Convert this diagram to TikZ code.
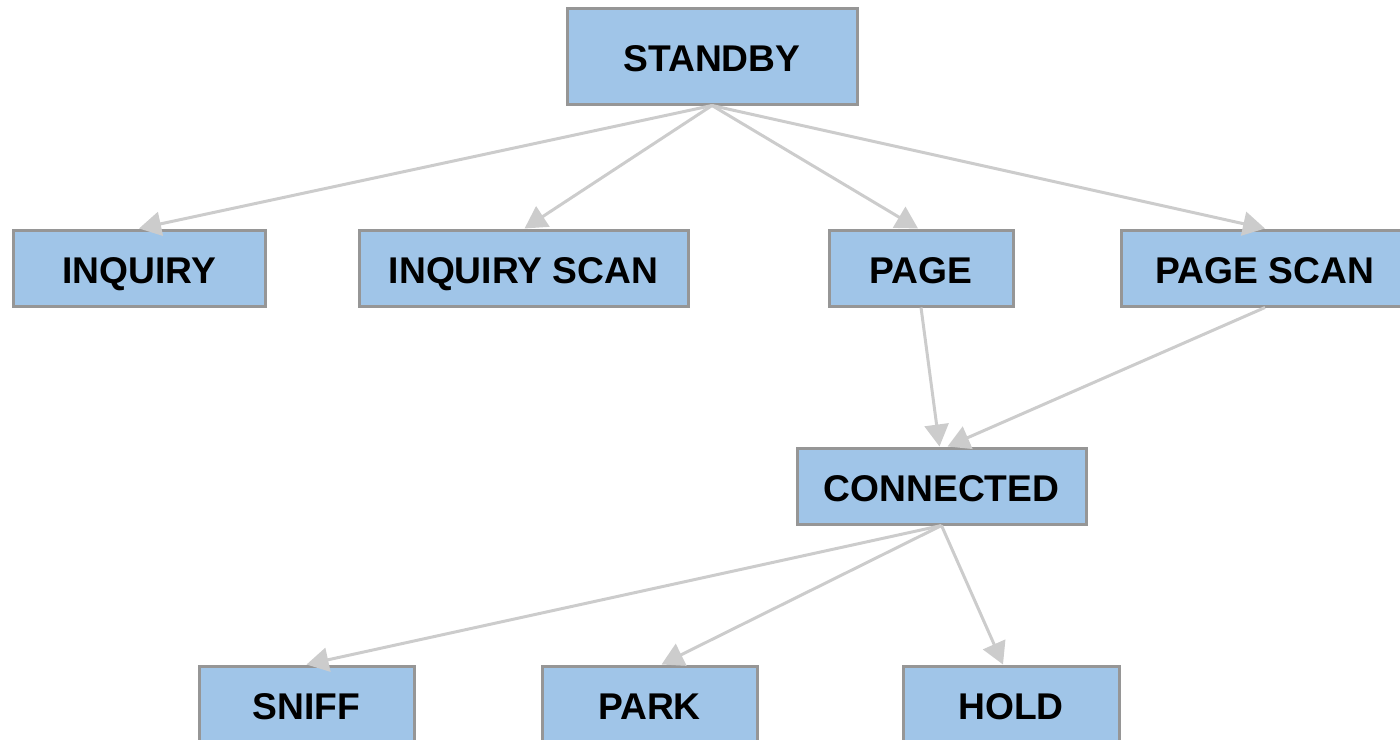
\documentclass[tikz,border=0pt]{standalone}
\usepackage{fontspec}
\setmainfont{Liberation Sans}
\usetikzlibrary{arrows.meta}
\definecolor{stfill}{RGB}{160,197,232}
\definecolor{stdraw}{RGB}{150,150,150}
\definecolor{stline}{RGB}{204,204,204}
\tikzset{
  state/.style={draw=stdraw, line width=1.5pt, fill=stfill, minimum height=38pt,
    inner sep=0pt, text height=17.8pt, text depth=2pt,
    font=\fontsize{18.6}{20}\selectfont\bfseries},
  trans/.style={draw=stline, line width=1.5pt,
    -{Triangle[length=11pt,width=12pt,fill=stline]}}
}
\begin{document}
\begin{tikzpicture}[x=0.5pt,y=-0.5pt]
\useasboundingbox (0,0) rectangle (1400,739);
\clip (0,0) rectangle (1400,739);

%Shape: states
\node [state, minimum width=145pt, minimum height=48pt] (standby) at (712,56) {STANDBY};
\node [state, minimum width=126pt] (inquiry) at (139,268) {INQUIRY};
\node [state, minimum width=164.5pt] (inqscan) at (523.5,268) {INQUIRY SCAN};
\node [state, minimum width=92pt] (page) at (921,268) {PAGE};
\node [state, minimum width=144pt] (pagescan) at (1265,268) {PAGE SCAN};
\node [state, minimum width=144.5pt] (connected) at (941.5,486) {CONNECTED};
\node [state, minimum width=107.5pt] (sniff) at (306.5,704) {SNIFF};
\node [state, minimum width=107.5pt] (park) at (649.5,704) {PARK};
\node [state, minimum width=108pt] (hold) at (1011,704) {HOLD};

%Straight Lines: transitions
\draw [trans] (standby.south) -- (inquiry.north);
\draw [trans] (standby.south) -- ([xshift=0.5pt]inqscan.north);
\draw [trans] (standby.south) -- ([xshift=-1.5pt]page.north);
\draw [trans] (standby.south) -- (pagescan.north);
\draw [trans] (page.south) -- ([xshift=-1pt]connected.north);
\draw [trans] (pagescan.south) -- ([xshift=3pt]connected.north);
\draw [trans] (connected.south) -- (sniff.north);
\draw [trans] (connected.south) -- ([xshift=6pt]park.north);
\draw [trans] (connected.south) -- ([xshift=-4pt]hold.north);

\end{tikzpicture}
\end{document}
